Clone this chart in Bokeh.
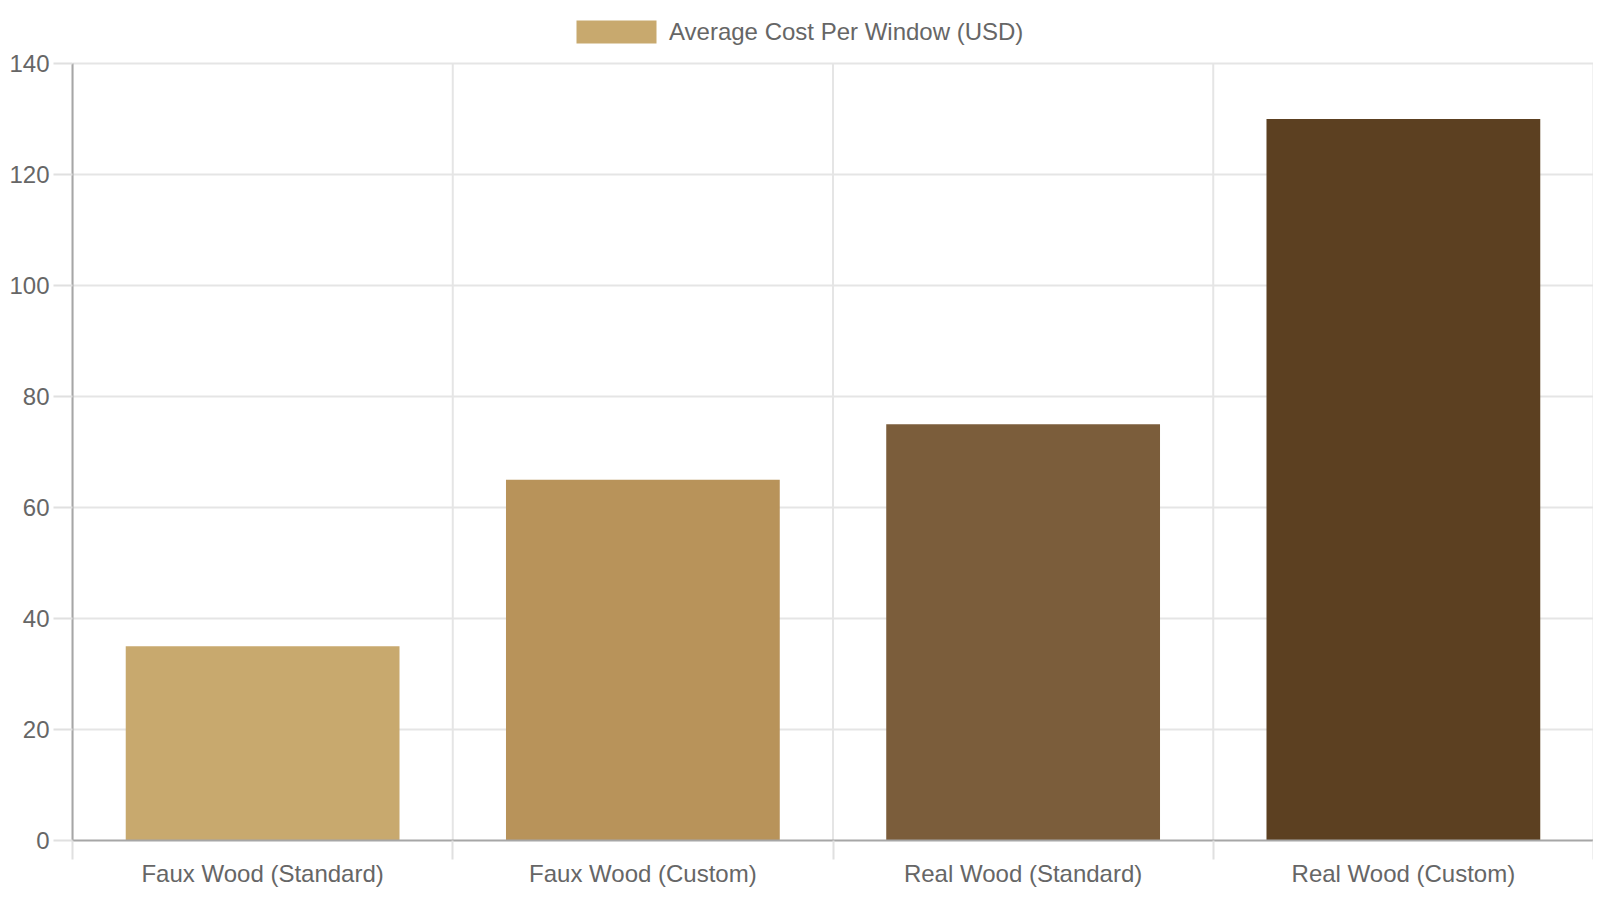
import numpy as np

from bokeh.embed import file_html
from bokeh.models import ColumnDataSource, FixedTicker, Legend, LegendItem, Range1d
from bokeh.plotting import figure
from bokeh.resources import INLINE

categories = ["Faux Wood (Standard)", "Faux Wood (Custom)",
              "Real Wood (Standard)", "Real Wood (Custom)"]
costs = [35, 65, 75, 130]
colors = ["#C8A96E", "#B8935A", "#7B5D3B", "#5C4021"]
y_ticks = [0, 20, 40, 60, 80, 100, 120, 140]
series_name = "Average Cost Per Window (USD)"

FONT = "Liberation Sans"
TEXT = "#666666"
GRID = "#e5e5e5"

# chart area is 777px for 0..140, plus a 55px strip on top that holds the legend
plot_h = 777
top_gap = 55
y_max = y_ticks[-1]
y_top = y_max * (plot_h + top_gap) / plot_h

# bars sit in the middle of each category slot, grid lines on the slot edges
centers = np.arange(len(categories)) + 0.5
edges = np.arange(len(categories) + 1)

src = ColumnDataSource(data=dict(x=centers, cost=costs, color=colors))

p = figure(frame_width=1521, frame_height=plot_h + top_gap,
           x_range=Range1d(0, len(categories)), y_range=Range1d(0, y_top),
           output_backend="svg", toolbar_location=None,
           min_border_left=72, min_border_right=0,
           min_border_top=8, min_border_bottom=0)
p.outline_line_color = None

# vertical grid lines, stopping at the top of the value axis
p.segment(x0=edges, y0=0, x1=edges, y1=y_max, line_color=GRID, line_width=2)

bars = p.vbar(x="x", top="cost", width=0.72, bottom=0, source=src,
              fill_color="color", line_color=None)

legend = Legend(items=[LegendItem(label=series_name, renderers=[bars], index=0)],
                orientation="horizontal", location=(494, 794),
                glyph_width=100, glyph_height=29, label_standoff=3,
                label_text_font=FONT, label_text_font_size="24px",
                label_text_color=TEXT, padding=5, margin=0,
                border_line_color=None, background_fill_alpha=0)
p.add_layout(legend)

# x axis: labels at the centres, tick marks at the edges
p.xaxis.ticker = FixedTicker(ticks=list(centers), minor_ticks=list(edges))
p.xaxis.major_label_overrides = {float(c): name for c, name in zip(centers, categories)}
p.xaxis.major_tick_out = 0
p.xaxis.major_tick_in = 0
p.xaxis.minor_tick_out = 19
p.xaxis.minor_tick_in = 0
p.xaxis.minor_tick_line_color = "#e0e0e0"
p.xaxis.minor_tick_line_width = 2
p.xaxis.major_label_standoff = 0
p.xgrid.visible = False

p.yaxis.ticker = FixedTicker(ticks=y_ticks)
p.yaxis.bounds = (0, y_max)
p.yaxis.major_tick_out = 19
p.yaxis.major_tick_in = 0
p.yaxis.minor_tick_line_color = None
p.yaxis.major_tick_line_color = "#e0e0e0"
p.yaxis.major_tick_line_width = 2
p.yaxis.major_label_standoff = 4
p.ygrid.ticker = FixedTicker(ticks=y_ticks)
p.ygrid.grid_line_color = GRID
p.ygrid.grid_line_width = 2

for ax in (p.xaxis, p.yaxis):
    ax.axis_line_color = "#a6a6a6"
    ax.axis_line_width = 2
    ax.major_label_text_font = FONT
    ax.major_label_text_font_size = "24px"
    ax.major_label_text_color = TEXT

open("out.html", "w").write(file_html(p, INLINE))
